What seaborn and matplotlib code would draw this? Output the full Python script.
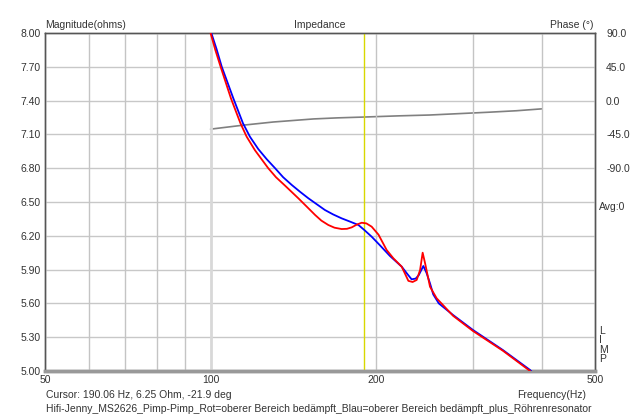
import numpy as np
import pandas as pd
import matplotlib
matplotlib.use("Agg")
import matplotlib.pyplot as plt
import seaborn as sns

# ---- data ----
red_hz = [100, 102, 104.3, 108.9, 113.3, 116.3, 120.4, 127.3, 131.5, 136.6, 144.4, 149.5, 154.9, 159, 163.7, 168, 173.1,
          177, 180.6, 184.5, 188.3, 192, 196.3, 202, 209, 215, 222.6, 228.9, 233, 237, 240.4, 243, 245.5,
          250.6, 257.7, 276, 300, 340, 381, 386]
red_ohm = [8.00, 7.85, 7.70, 7.42, 7.20, 7.08, 6.96, 6.80, 6.72, 6.645, 6.533, 6.46, 6.385, 6.335, 6.296, 6.272, 6.26,
           6.262, 6.275, 6.30, 6.316, 6.31, 6.281, 6.21, 6.074, 6.00, 5.926, 5.80, 5.79, 5.808, 5.896, 6.05, 5.956,
           5.748, 5.645, 5.49, 5.355, 5.18, 5.00, 4.97]

blue_hz = [100, 102.5, 104.8, 110, 114.5, 117.9, 122.1, 126.5, 131, 135.5, 140.5, 145.5, 150.6, 156, 161.4, 167,
           173.1, 179.5, 185.7, 190, 196.3, 203, 212, 222.6, 228, 232, 236, 239, 243.7, 247, 250.6, 254, 260,
           276, 300, 340, 381, 386]
blue_ohm = [8.02, 7.86, 7.70, 7.42, 7.20, 7.08, 6.97, 6.88, 6.80, 6.72, 6.651, 6.59, 6.533, 6.48, 6.429, 6.39,
            6.355, 6.325, 6.296, 6.255, 6.192, 6.118, 6.02, 5.926, 5.86, 5.814, 5.82, 5.85, 5.932, 5.87, 5.778, 5.68, 5.60,
            5.497, 5.364, 5.186, 5.009, 4.98]

phase_hz = [100, 115, 130, 154, 170, 190, 220, 250, 320, 360, 400]
phase_deg = [-38, -32.6, -28.5, -24.4, -23.0, -21.9, -20.3, -19.2, -15.5, -13.5, -11]

cursor_hz = 190.06
y_ticks = [5.00, 5.30, 5.60, 5.90, 6.20, 6.50, 6.80, 7.10, 7.40, 7.70, 8.00]
x_ticks = [50, 100, 200, 500]
x_minor = [60, 70, 80, 90, 100, 200, 300, 400]
phase_ticks = [90, 45, 0, -45, -90]

sns.set_style("white")
plt.rcParams['font.family'] = ['Liberation Sans', 'DejaVu Sans']
fs = 7.5

fig = plt.figure(figsize=(6.4, 4.18), dpi=100)
ax = fig.add_axes([45/640, 1-371/418, 550/640, 338/418])
ax.set_xscale('log')
ax.set_xlim(50, 500)
ax.set_ylim(5.0, 8.0)

for v in y_ticks[1:-1]:
    ax.axhline(v, color='#c8c8c8', lw=1, zorder=0)
for v in x_minor:
    ax.axvline(v, color='#d8d8d8' if v == 100 else '#c4c4c4', lw=2 if v == 100 else 1, zorder=0)
ax.axvline(cursor_hz, color='#d8d800', lw=1, zorder=1)

ax2 = ax.twinx()
ax2.set_ylim(-360, 90)
ph = pd.DataFrame({'hz': phase_hz, 'deg': phase_deg})
sns.lineplot(data=ph, x='hz', y='deg', ax=ax2, color='#808080', lw=1.2)

rd = pd.DataFrame({'hz': red_hz, 'ohm': red_ohm})
bd = pd.DataFrame({'hz': blue_hz, 'ohm': blue_ohm})
sns.lineplot(data=bd, x='hz', y='ohm', ax=ax, color='#0000ff', lw=1.3, zorder=3)
sns.lineplot(data=rd, x='hz', y='ohm', ax=ax, color='#ff0000', lw=1.3, zorder=4)
ax.set_zorder(2); ax.patch.set_visible(False)
ax2.set_zorder(1)

ax.set_xticks(x_ticks)
ax.set_xticklabels([str(t) for t in x_ticks], fontsize=fs, color='#333333')
ax.xaxis.set_minor_locator(matplotlib.ticker.NullLocator())
ax.set_yticks(y_ticks)
ax.set_yticklabels([f"{t:.2f}" for t in y_ticks], fontsize=fs, color='#333333')
ax.tick_params(length=0, pad=3)
ax.set_xlabel(''); ax.set_ylabel('')
ax2.set_yticks(phase_ticks)
ax2.set_yticklabels([f"{t:.1f}" for t in phase_ticks], fontsize=fs, color='#333333')
ax2.tick_params(length=0, pad=8)
ax2.set_xlabel(''); ax2.set_ylabel('')

for a in (ax, ax2):
    for s in ('left', 'top', 'right'):
        a.spines[s].set_color('#555555'); a.spines[s].set_linewidth(1)
    a.spines['bottom'].set_color('#999999'); a.spines['bottom'].set_linewidth(2.5)

def ftxt(x, y, s, **kw):
    fig.text(x/640, 1-y/418, s, fontsize=fs, color='#333333', **kw)

ftxt(45, 25, 'Magnitude(ohms)', ha='left', va='center')
ftxt(320, 25, 'Impedance', ha='center', va='center')
ftxt(594, 25, 'Phase (°)', ha='right', va='center')
ftxt(599, 207, 'Avg:0', ha='left', va='center')
ftxt(599, 345, 'L\nI\nM\nP', ha='left', va='center', linespacing=0.95)
ftxt(46, 395, 'Cursor: 190.06 Hz, 6.25 Ohm, -21.9 deg', ha='left', va='center')
ftxt(586, 395, 'Frequency(Hz)', ha='right', va='center')
ftxt(46, 409, 'Hifi-Jenny_MS2626_Pimp-Pimp_Rot=oberer Bereich bedämpft_Blau=oberer Bereich bedämpft_plus_Röhrenresonator',
     ha='left', va='center')

fig.savefig('out.png', dpi=100)
